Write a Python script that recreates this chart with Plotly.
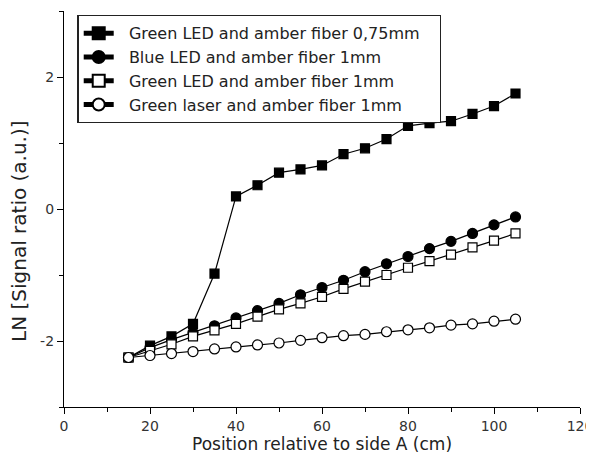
import plotly.graph_objects as go

positions = [15, 20, 25, 30, 35, 40, 45, 50, 55, 60, 65, 70, 75, 80, 85, 90, 95, 100, 105]

green_led_075 = [-2.25, -2.07, -1.93, -1.74, -0.98, 0.19, 0.36, 0.55, 0.60, 0.66,
                 0.83, 0.92, 1.06, 1.26, 1.30, 1.33, 1.44, 1.56, 1.75]
blue_led_1 = [-2.25, -2.10, -1.98, -1.87, -1.77, -1.65, -1.54, -1.43, -1.30, -1.19,
              -1.08, -0.95, -0.83, -0.72, -0.60, -0.49, -0.37, -0.24, -0.12]
green_led_1 = [-2.25, -2.15, -2.05, -1.93, -1.84, -1.74, -1.63, -1.52, -1.43, -1.33,
               -1.21, -1.10, -1.00, -0.89, -0.79, -0.69, -0.58, -0.48, -0.37]
green_laser_1 = [-2.25, -2.22, -2.19, -2.16, -2.12, -2.09, -2.06, -2.03, -1.99, -1.95,
                 -1.92, -1.90, -1.86, -1.83, -1.80, -1.76, -1.74, -1.70, -1.67]

series_names = ["Green LED and amber fiber 0,75mm",
                "Blue LED and amber fiber 1mm",
                "Green LED and amber fiber 1mm",
                "Green laser and amber fiber 1mm"]

x_ticks = [0, 20, 40, 60, 80, 100, 120]
y_ticks = [-2, 0, 2]
y_tick_labels = ["-2", "0", "2"]

styles = [
    dict(symbol="square", color="black", size=9),
    dict(symbol="circle", color="black", size=10),
    dict(symbol="square", color="white", size=9),
    dict(symbol="circle", color="white", size=10),
]

FONT = "DejaVu Sans, Liberation Sans, Arial, sans-serif"
PAD = "\u00a0\u00a0"
TAIL = "\u00a0\u00a0\u00a0"

fig = go.Figure()
for i, (name, ys, st) in enumerate(zip(series_names,
                                       [green_led_075, blue_led_1, green_led_1, green_laser_1],
                                       styles)):
    label = PAD + name + (TAIL if i == 0 else "")
    fig.add_trace(go.Scatter(
        x=positions, y=ys, name=label, mode="lines+markers",
        line=dict(color="black", width=1.2),
        marker=dict(symbol=st["symbol"], size=st["size"], color=st["color"],
                    line=dict(color="black", width=1.2)),
    ))

axis_common = dict(
    showline=True, linecolor="black", linewidth=1.3, mirror=False,
    ticks="outside", ticklen=6, tickwidth=1.3, tickcolor="black",
    showgrid=False, zeroline=False, automargin=False,
    tickfont=dict(family=FONT, size=14, color="#333"),
)

# the page body has an 8px margin, so the figure is sized/offset to compensate
fig.update_layout(
    width=586, height=452,
    margin=dict(l=56, r=14, t=3, b=53),
    plot_bgcolor="white", paper_bgcolor="white",
    font=dict(family=FONT, color="#222"),
    showlegend=True,
    legend=dict(
        x=0.026, y=0.99, xanchor="left", yanchor="top",
        bordercolor="#222", borderwidth=1.3, bgcolor="white",
        font=dict(size=16, color="#222"),
        tracegroupgap=0, itemsizing="constant",
    ),
    annotations=[dict(
        text="LN [Signal ratio (a.u.)]", textangle=-90,
        xref="paper", yref="paper",
        x=(19 - 64) / 516, y=(407 - 231) / 396,
        xanchor="center", yanchor="middle", showarrow=False,
        font=dict(family=FONT, size=20, color="#222"),
    )],
)
fig.update_xaxes(
    range=[0, 120], tickvals=x_ticks,
    minor=dict(dtick=10, ticks="outside", ticklen=4, tickwidth=1.3, tickcolor="black"),
    title=dict(text="Position relative to side A (cm)", font=dict(size=17, color="#222"), standoff=4),
    **axis_common,
)
fig.update_yaxes(
    range=[-3, 3], tickvals=y_ticks, ticktext=y_tick_labels,
    minor=dict(dtick=1, ticks="outside", ticklen=4, tickwidth=1.3, tickcolor="black", tick0=-3),
    **axis_common,
)

fig.write_html("out.html")
